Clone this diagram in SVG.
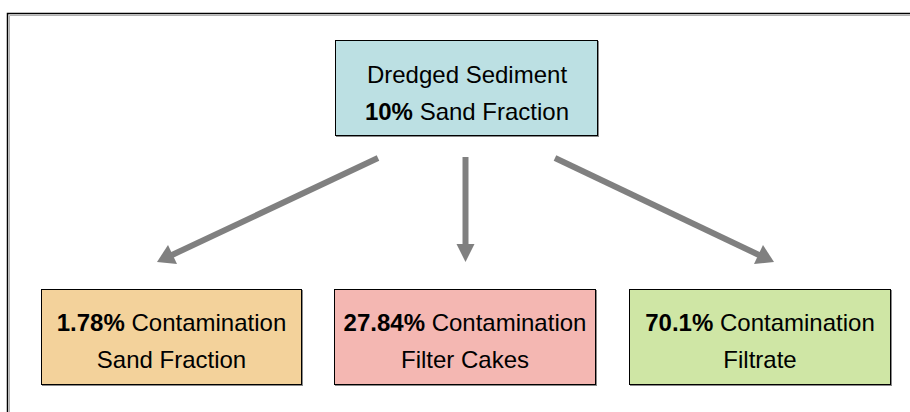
<svg xmlns="http://www.w3.org/2000/svg" width="910" height="412" viewBox="0 0 910 412">
<style>
.box{stroke:#000;stroke-width:1}
.sh{fill:#8a8a8a}
text{font-family:"Liberation Sans",Arial,sans-serif;font-size:24px;fill:#000;text-anchor:middle}
.b{font-weight:bold}
.ar{stroke:#808080;stroke-width:6;fill:none}
.hd{fill:#808080}
</style>
<rect x="0" y="0" width="910" height="412" fill="#fff"/>
<path d="M8.5,424 V14.5 H920" fill="none" stroke="#b0b0b0" stroke-width="1" transform="translate(1,1)"/>
<path d="M7.5,424 V13.5 H920" fill="none" stroke="#000" stroke-width="1.5"/>
<g id="connectors">
<line class="ar" x1="378" y1="158" x2="172" y2="255"/>
<polygon class="hd" points="157,262 168,245 177,264"/>
<line class="ar" x1="465.5" y1="157" x2="465.5" y2="246"/>
<polygon class="hd" points="456.5,244 474.5,244 465.5,262"/>
<line class="ar" x1="555" y1="158" x2="759" y2="255"/>
<polygon class="hd" points="774,262 763,245 754,264"/>
</g>
<g id="top">
<rect class="sh" x="336" y="41" width="263" height="96"/>
<rect class="box" x="335.5" y="40.5" width="262" height="95" fill="#BCE0E3"/>
<text x="467" y="83">Dredged Sediment</text>
<text x="467" y="120"><tspan class="b">10%</tspan> Sand Fraction</text>
</g>
<g id="sand">
<rect class="sh" x="42" y="290" width="261" height="96"/>
<rect class="box" x="41.5" y="289.5" width="260" height="95" fill="#F3D29B"/>
<text x="171.5" y="331"><tspan class="b">1.78%</tspan> Contamination</text>
<text x="171.5" y="368">Sand Fraction</text>
</g>
<g id="cakes">
<rect class="sh" x="335" y="290" width="262" height="96"/>
<rect class="box" x="334.5" y="289.5" width="261" height="95" fill="#F4B7B2"/>
<text x="465" y="331"><tspan class="b">27.84%</tspan> Contamination</text>
<text x="465" y="368">Filter Cakes</text>
</g>
<g id="filtrate">
<rect class="sh" x="630" y="290" width="262" height="96"/>
<rect class="box" x="629.5" y="289.5" width="261" height="95" fill="#CFE6A5"/>
<text x="760" y="331"><tspan class="b">70.1%</tspan> Contamination</text>
<text x="760" y="368">Filtrate</text>
</g>
</svg>
